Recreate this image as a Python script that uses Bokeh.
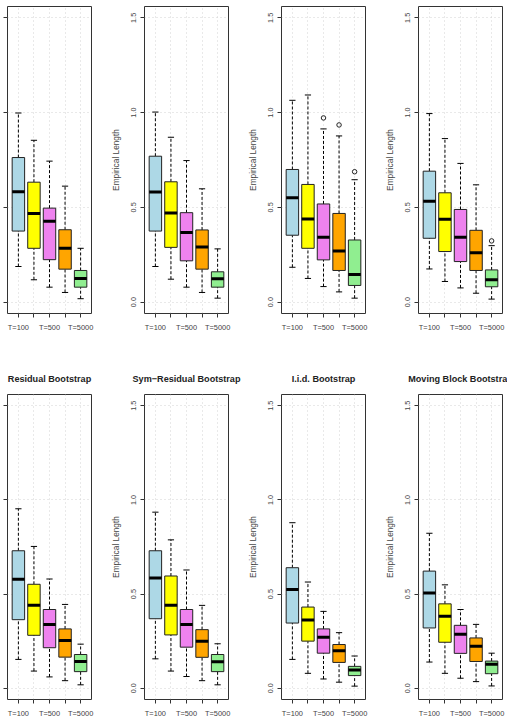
from bokeh.plotting import figure
from bokeh.layouts import column, row
from bokeh.models import Range1d, FixedTicker, PrintfTickFormatter, ColumnDataSource
from bokeh.embed import file_html
from bokeh.resources import INLINE

# ---- data: five sample sizes per panel, eight panels (top row, then bottom row)
positions = [1, 2, 3, 4, 5]
tick_labels = ["T=100", "", "T=500", "", "T=5000"]
box_colors = ["#ADD8E6", "#FFFF00", "#EE82EE", "#FFA500", "#90EE90"]
titles = [None, None, None, None,
          "Residual Bootstrap", "Sym\u2212Residual Bootstrap",
          "I.i.d. Bootstrap", "Moving Block Bootstrap"]

whisker_high = [
    [0.998, 0.854, 0.744, 0.612, 0.284],
    [1.003, 0.870, 0.747, 0.598, 0.281],
    [1.065, 1.093, 0.914, 0.877, 0.646],
    [0.995, 0.863, 0.732, 0.619, 0.298],
    [0.953, 0.753, 0.580, 0.445, 0.234],
    [0.935, 0.788, 0.628, 0.440, 0.236],
    [0.879, 0.564, 0.408, 0.295, 0.171],
    [0.823, 0.549, 0.418, 0.339, 0.186],
]
box_high = [
    [0.763, 0.633, 0.496, 0.382, 0.167],
    [0.770, 0.635, 0.472, 0.381, 0.160],
    [0.700, 0.621, 0.518, 0.468, 0.328],
    [0.691, 0.577, 0.489, 0.379, 0.170],
    [0.730, 0.552, 0.418, 0.315, 0.179],
    [0.730, 0.596, 0.418, 0.311, 0.179],
    [0.640, 0.431, 0.315, 0.232, 0.116],
    [0.622, 0.448, 0.334, 0.267, 0.144],
]
median = [
    [0.582, 0.468, 0.427, 0.284, 0.125],
    [0.581, 0.470, 0.367, 0.291, 0.123],
    [0.551, 0.439, 0.342, 0.270, 0.146],
    [0.532, 0.437, 0.342, 0.261, 0.118],
    [0.579, 0.440, 0.338, 0.253, 0.142],
    [0.586, 0.440, 0.339, 0.250, 0.141],
    [0.524, 0.362, 0.271, 0.199, 0.097],
    [0.506, 0.382, 0.287, 0.223, 0.127],
]
box_low = [
    [0.375, 0.284, 0.224, 0.174, 0.079],
    [0.375, 0.289, 0.218, 0.174, 0.079],
    [0.353, 0.284, 0.223, 0.167, 0.088],
    [0.337, 0.267, 0.214, 0.167, 0.081],
    [0.364, 0.281, 0.215, 0.165, 0.088],
    [0.369, 0.283, 0.218, 0.164, 0.088],
    [0.346, 0.250, 0.186, 0.137, 0.067],
    [0.320, 0.244, 0.185, 0.142, 0.077],
]
whisker_low = [
    [0.188, 0.118, 0.079, 0.051, 0.018],
    [0.188, 0.121, 0.079, 0.051, 0.021],
    [0.184, 0.125, 0.082, 0.054, 0.021],
    [0.175, 0.109, 0.075, 0.047, 0.016],
    [0.153, 0.091, 0.060, 0.040, 0.018],
    [0.156, 0.091, 0.062, 0.040, 0.018],
    [0.153, 0.079, 0.049, 0.032, 0.011],
    [0.139, 0.079, 0.053, 0.035, 0.012],
]
outlier_panel = [2, 2, 2, 3]
outlier_pos = [3, 4, 5, 5]
outlier_value = [0.972, 0.935, 0.688, 0.323]

# ---- layout of the grid
col_widths = [104, 137, 137, 129]
col_left = [7, 40, 40, 40]
col_right = [13, 13, 13, 5]
row_heights = [358, 362]
row_top = [6, 36]
row_bottom = [45, 19]

FONT = "Liberation Sans"
BOX_HALF = 0.4
STAPLE_HALF = 0.2


def make_panel(k):
    r, c = divmod(k, 4)
    p = figure(width=col_widths[c], height=row_heights[r],
               x_range=Range1d(0.3, 5.7), y_range=Range1d(-0.06, 1.56),
               output_backend="svg", toolbar_location=None, tools="",
               min_border_left=col_left[c], min_border_right=col_right[c],
               min_border_top=row_top[r], min_border_bottom=row_bottom[r],
               background_fill_color="white", border_fill_color="white")
    p.outline_line_color = "#333333"
    p.outline_line_width = 1

    if titles[k]:
        p.title.text = titles[k]
        p.title.align = "center"
        p.title.text_font = FONT
        p.title.text_font_size = "9.1px"
        p.title.text_font_style = "bold"
        p.title.text_color = "#222222"
        p.title.standoff = 22

    # grid
    for g in (p.xgrid, p.ygrid):
        g.grid_line_color = "#D3D3D3"
        g.grid_line_dash = "1 3"
        g.grid_line_width = 1

    # x axis
    xa = p.xaxis[0]
    xa.ticker = FixedTicker(ticks=positions)
    xa.major_label_overrides = {pos: lab for pos, lab in zip(positions, tick_labels)}
    xa.axis_line_color = None
    xa.major_tick_in = 0
    xa.major_tick_out = 4
    xa.major_tick_line_color = "#333333"
    xa.minor_tick_line_color = None
    xa.major_label_standoff = 5
    xa.major_label_text_font = FONT
    xa.major_label_text_font_size = "7.4px"
    xa.major_label_text_color = "#444444"

    # y axis
    ya = p.yaxis[0]
    ya.ticker = FixedTicker(ticks=[0.0, 0.5, 1.0, 1.5])
    ya.formatter = PrintfTickFormatter(format="%.1f")
    ya.axis_line_color = None
    ya.major_tick_in = 0
    ya.major_tick_out = 4
    ya.major_tick_line_color = "#333333"
    ya.minor_tick_line_color = None
    ya.major_label_orientation = "vertical"
    ya.major_label_text_font = FONT
    ya.major_label_text_color = "#444444"
    if c == 0:
        ya.major_label_text_font_size = "1px"
        ya.major_label_text_alpha = 0
        ya.major_label_standoff = 0
    else:
        ya.major_label_text_font_size = "7.3px"
        ya.major_label_standoff = 4
        ya.axis_label = "Empirical Length"
        ya.axis_label_text_font = FONT
        ya.axis_label_text_font_size = "8.3px"
        ya.axis_label_text_font_style = "normal"
        ya.axis_label_text_color = "#444444"
        ya.axis_label_standoff = 8

    src = ColumnDataSource(dict(
        x=positions,
        left=[x - BOX_HALF for x in positions],
        right=[x + BOX_HALF for x in positions],
        sl=[x - STAPLE_HALF for x in positions],
        sr=[x + STAPLE_HALF for x in positions],
        lo=whisker_low[k], q1=box_low[k], med=median[k],
        q3=box_high[k], hi=whisker_high[k], color=box_colors,
    ))

    # whiskers (dashed) and staples
    p.segment(x0="x", x1="x", y0="q3", y1="hi", source=src,
              line_color="black", line_width=1, line_dash="3 2")
    p.segment(x0="x", x1="x", y0="lo", y1="q1", source=src,
              line_color="black", line_width=1, line_dash="3 2")
    p.segment(x0="sl", x1="sr", y0="hi", y1="hi", source=src,
              line_color="black", line_width=1)
    p.segment(x0="sl", x1="sr", y0="lo", y1="lo", source=src,
              line_color="black", line_width=1)

    # boxes and medians
    p.quad(left="left", right="right", bottom="q1", top="q3", source=src,
           fill_color="color", line_color="#222222", line_width=1)
    p.segment(x0="left", x1="right", y0="med", y1="med", source=src,
              line_color="black", line_width=3)

    # outliers
    ox = [pos for pp, pos in zip(outlier_panel, outlier_pos) if pp == k]
    oy = [v for pp, v in zip(outlier_panel, outlier_value) if pp == k]
    if ox:
        p.scatter(ox, oy, marker="circle", size=4.5, fill_color=None,
                  line_color="#222222", line_width=1)
    return p


panels = [make_panel(k) for k in range(8)]
layout = column(row(*panels[:4]), row(*panels[4:]))

open("out.html", "w").write(file_html(layout, INLINE))
